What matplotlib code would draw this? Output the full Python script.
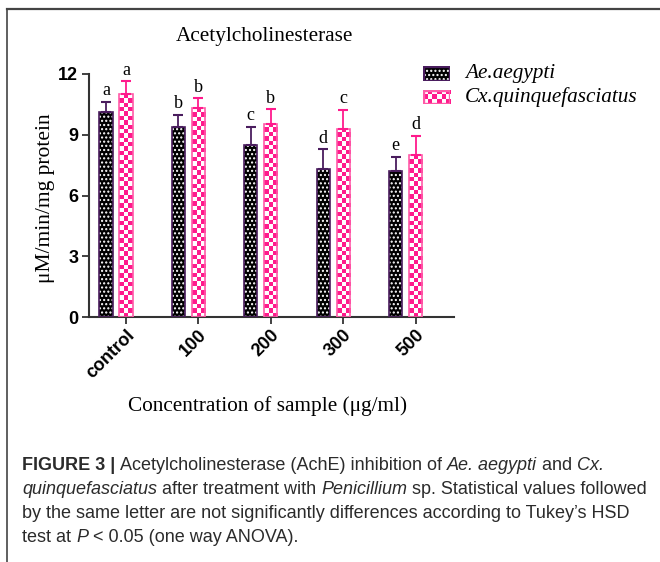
import numpy as np
import matplotlib
matplotlib.use("Agg")
from matplotlib import pyplot as plt
from matplotlib.lines import Line2D
from matplotlib.patches import Rectangle

# data
groups = ['control', '100', '200', '300', '500']
ae_mean = [10.1, 9.4, 8.5, 7.3, 7.2]
ae_err = [0.53, 0.6, 0.87, 0.98, 0.7]
cx_mean = [11.0, 10.3, 9.55, 9.3, 8.0]
cx_err = [0.64, 0.5, 0.7, 0.92, 0.96]
ae_letters = ['a', 'b', 'c', 'd', 'e']
cx_letters = ['a', 'b', 'b', 'c', 'd']

W, H = 660, 562
PURPLE = '#4a1d5e'
PINK = '#ff1a8c'
PINK_EDGE = '#ff5aa8'
SERIF = 'Liberation Serif'
SANS = 'Liberation Sans'


def checker(rows, cols):
    """checkerboard texture, 1 = pink, 0 = white"""
    r, c = np.indices((rows, cols))
    return (r + c) % 2


fig = plt.figure(figsize=(W / 100, H / 100), dpi=100)

# frame lines round the figure panel
fig.add_artist(Line2D([7 / W, 1], [1 - 8.5 / H] * 2, color='#444444', lw=1.6))
fig.add_artist(Line2D([7.3 / W] * 2, [0, 1 - 8.5 / H], color='#444444', lw=1.2))

ax = fig.add_axes([89.3 / W, 1 - 317 / H, 365 / W, 243 / H])
x = np.arange(len(groups))
off = 0.138
bw = 0.184

# Ae bars: black with white dots
ax.bar(x - off, ae_mean, bw, color='black', edgecolor='white', hatch='....', lw=0, zorder=2)
ax.bar(x - off, ae_mean, bw, color='none', edgecolor=PURPLE, lw=1.2, zorder=3)

# Cx bars: pink / white checkerboard
cmap = matplotlib.colors.ListedColormap(['white', PINK])
for xi, h in zip(x + off, cx_mean):
    nrows = int(round(h * 20.25 / 4.4))
    ax.imshow(checker(nrows, 3), cmap=cmap, vmin=0, vmax=1, interpolation='nearest',
              aspect='auto', extent=(xi - bw / 2, xi + bw / 2, 0, h), zorder=2)
ax.bar(x + off, cx_mean, bw, color='none', edgecolor=PINK_EDGE, lw=1.2, zorder=3)

# error bars, upper only
ax.errorbar(x - off, ae_mean, yerr=[np.zeros(5), ae_err], fmt='none', ecolor=PURPLE,
            elinewidth=1.3, capsize=3.5, capthick=1.5, zorder=4, clip_on=False)
ax.errorbar(x + off, cx_mean, yerr=[np.zeros(5), cx_err], fmt='none', ecolor=PINK,
            elinewidth=1.3, capsize=3.5, capthick=1.5, zorder=4, clip_on=False)

for xi, m, e, t in zip(x - off, ae_mean, ae_err, ae_letters):
    ax.annotate(t, (xi, m + e), xytext=(0, 2), textcoords='offset points', ha='center',
                va='bottom', family=SERIF, fontsize=13, annotation_clip=False)
for xi, m, e, t in zip(x + off, cx_mean, cx_err, cx_letters):
    ax.annotate(t, (xi, m + e), xytext=(0, 2), textcoords='offset points', ha='center',
                va='bottom', family=SERIF, fontsize=13, annotation_clip=False)

ax.set_xlim(-0.369, 4.673)
ax.set_ylim(0, 12)
ax.set_yticks([0, 3, 6, 9, 12])
ax.set_xticks(x + off)
ax.set_xticklabels(groups, rotation=45, ha='right', va='top', rotation_mode='anchor')
for lab in ax.get_xticklabels() + ax.get_yticklabels():
    lab.set_fontfamily(SANS)
    lab.set_fontweight('bold')
    lab.set_fontsize(13)
ax.tick_params(axis='both', length=5, width=1.3, color='#333333', pad=3)
ax.tick_params(axis='x', pad=2)
for s in ['top', 'right']:
    ax.spines[s].set_visible(False)
for s in ['left', 'bottom']:
    ax.spines[s].set_linewidth(1.5)
    ax.spines[s].set_color('#333333')

fig.text(264 / W, 1 - 36 / H, 'Acetylcholinesterase', family=SERIF, fontsize=15.3,
         ha='center', va='center')
fig.text(46 / W, 1 - 198 / H, 'μM/min/mg protein', family=SERIF, fontsize=15.5,
         rotation=90, ha='center', va='center')
fig.text(268 / W, 1 - 406 / H, 'Concentration of sample (μg/ml)', family=SERIF,
         fontsize=15.3, ha='center', va='center')

# legend drawn by hand
sw = fig.add_axes([422.7 / W, 1 - 80.7 / H, 27.3 / W, 14.4 / H])
sw.add_patch(Rectangle((0, 0), 1, 1, facecolor='black', edgecolor='white', hatch='....', lw=0))
sw.add_patch(Rectangle((0, 0), 1, 1, facecolor='none', edgecolor=PURPLE, lw=2.4))
sw.set_xlim(0, 1)
sw.set_ylim(0, 1)
sw.axis('off')
sw2 = fig.add_axes([422.7 / W, 1 - 104 / H, 27.3 / W, 14 / H])
sw2.imshow(checker(3, 6), cmap=cmap, vmin=0, vmax=1, interpolation='nearest',
           aspect='auto', extent=(0, 1, 0, 1))
sw2.add_patch(Rectangle((0, 0), 1, 1, facecolor='none', edgecolor=PINK_EDGE, lw=2.4))
sw2.set_xlim(0, 1)
sw2.set_ylim(0, 1)
sw2.axis('off')
fig.text(465 / W, 1 - 73.5 / H, 'Ae.aegypti', family=SERIF, style='italic',
         fontsize=15.3, va='center')
fig.text(465 / W, 1 - 97 / H, 'Cx.quinquefasciatus', family=SERIF, style='italic',
         fontsize=15.3, va='center')

# caption, pieces chained so that styles can change within a line
CAP = '#2b2b2b'
caption = [
    [('FIGURE 3 | ', 'bold', 'normal'), ('Acetylcholinesterase (AchE) inhibition of ', 'normal', 'normal'),
     ('Ae. aegypti', 'normal', 'italic'), (' and ', 'normal', 'normal'), ('Cx.', 'normal', 'italic')],
    [('quinquefasciatus', 'normal', 'italic'), (' after treatment with ', 'normal', 'normal'),
     ('Penicillium', 'normal', 'italic'), (' sp. Statistical values followed', 'normal', 'normal')],
    [('by the same letter are not significantly differences according to Tukey\u2019s HSD', 'normal', 'normal')],
    [('test at ', 'normal', 'normal'), ('P', 'normal', 'italic'), (' < 0.05 (one way ANOVA).', 'normal', 'normal')],
]
baselines = [469.5, 493.5, 517.5, 541.5]
for line, yb in zip(caption, baselines):
    prev = None
    for txt, wt, st in line:
        kw = dict(family=SANS, fontsize=13, color=CAP, fontweight=wt, style=st)
        if prev is None:
            prev = fig.text(22 / W, 1 - yb / H, txt, va='baseline', ha='left', **kw)
        else:
            prev = fig.add_artist(plt.Annotation(txt, xy=(1, 0), xycoords=prev,
                                                 va='bottom', ha='left', **kw))

fig.savefig('out.png', dpi=100)
